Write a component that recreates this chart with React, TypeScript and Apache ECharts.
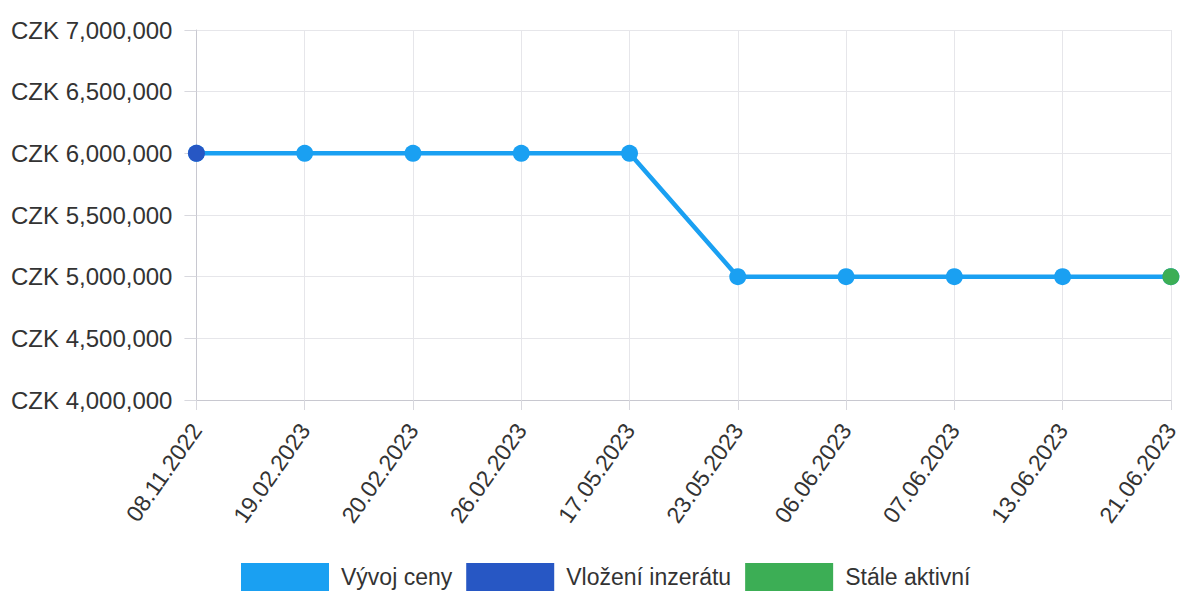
import React, { useEffect, useRef } from "react";
import * as echarts from "echarts";

const categories = [
  "08.11.2022", "19.02.2023", "20.02.2023", "26.02.2023", "17.05.2023",
  "23.05.2023", "06.06.2023", "07.06.2023", "13.06.2023", "21.06.2023",
];
const priceValues = [6000000, 6000000, 6000000, 6000000, 6000000, 5000000, 5000000, 5000000, 5000000, 5000000];
const listedValues = [6000000, null, null, null, null, null, null, null, null, null];
const activeValues = [null, null, null, null, null, null, null, null, null, 5000000];
const seriesNames = ["Vývoj ceny", "Vložení inzerátu", "Stále aktivní"];
const yMin = 4000000;
const yMax = 7000000;
const yInterval = 500000;

const FONT = "'Liberation Sans', Arial, sans-serif";

export default function App() {
  const ref = useRef<HTMLDivElement>(null);
  useEffect(() => {
    if (!ref.current) return;
    const chart = echarts.init(ref.current, null, { renderer: "svg" });
    chart.setOption({
      animation: false,
      textStyle: { fontFamily: FONT },
      grid: { left: 188, right: 11, top: 22, bottom: 192, containLabel: false },
      legend: {
        bottom: 1,
        left: 233,
        itemWidth: 88,
        itemHeight: 28,
        itemGap: 14,
        icon: "rect",
        padding: 0,
        textStyle: { fontSize: 23, color: "#333", fontFamily: FONT, padding: [0, 0, 0, 7] },
        data: seriesNames,
      },
      xAxis: {
        type: "category",
        data: categories,
        boundaryGap: false,
        axisLine: { show: true, lineStyle: { color: "#c8c8d0", width: 1 } },
        axisTick: { show: true, length: 10, lineStyle: { color: "#d8d8de" } },
        axisLabel: { rotate: 55, fontSize: 23, color: "#333", margin: 26, fontFamily: FONT },
        splitLine: { show: true, lineStyle: { color: "#e6e6ea", width: 1 } },
      },
      yAxis: {
        type: "value",
        min: yMin,
        max: yMax,
        interval: yInterval,
        axisLine: { show: true, lineStyle: { color: "#c8c8d0", width: 1 } },
        axisTick: { show: true, length: 12, lineStyle: { color: "#d8d8de" } },
        axisLabel: {
          fontSize: 24,
          color: "#333",
          margin: 24,
          fontFamily: FONT,
          formatter: (v: number) => "CZK " + v.toLocaleString("en-US"),
        },
        splitLine: { show: true, lineStyle: { color: "#e6e6ea", width: 1 } },
      },
      series: [
        {
          name: seriesNames[0],
          type: "line",
          data: priceValues,
          color: "#1aa0f2",
          lineStyle: { width: 4.5, color: "#1aa0f2" },
          symbol: "circle",
          symbolSize: 17,
          itemStyle: { color: "#1aa0f2", opacity: 1 },
          z: 2,
        },
        {
          name: seriesNames[1],
          type: "scatter",
          data: listedValues,
          color: "#2757c4",
          symbol: "circle",
          symbolSize: 17,
          itemStyle: { color: "#2757c4", opacity: 1 },
          z: 3,
        },
        {
          name: seriesNames[2],
          type: "scatter",
          data: activeValues,
          color: "#3cae55",
          symbol: "circle",
          symbolSize: 17,
          itemStyle: { color: "#3cae55", opacity: 1 },
          z: 3,
        },
      ],
    });
    return () => chart.dispose();
  }, []);
  return <div ref={ref} style={{ width: 1174, height: 584 }} />;
}
